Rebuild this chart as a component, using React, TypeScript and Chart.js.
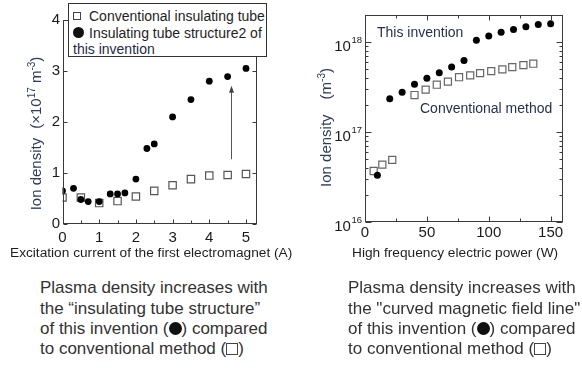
import React, { useEffect, useRef } from 'react';
import { Chart, registerables } from 'chart.js';
Chart.register(...registerables);

const FONT = "'Liberation Sans', Arial, Helvetica, sans-serif";

// ---------- Left chart data ----------
const CURRENT_INVENTION = [0, 0.3, 0.5, 0.7, 1.0, 1.3, 1.5, 1.7, 2.0, 2.3, 2.5, 3.0, 3.5, 4.0, 4.5, 5.0];
const DENSITY_INVENTION = [0.65, 0.70, 0.48, 0.44, 0.44, 0.59, 0.59, 0.61, 0.88, 1.48, 1.57, 2.10, 2.44, 2.80, 2.89, 3.05];
const CURRENT_CONVENTIONAL = [0, 0.5, 1.0, 1.5, 2.0, 2.5, 3.0, 3.5, 4.0, 4.5, 5.0];
const DENSITY_CONVENTIONAL = [0.52, 0.52, 0.41, 0.45, 0.54, 0.65, 0.76, 0.88, 0.95, 0.96, 0.98];
const LEFT_X_TICKS = [0, 1, 2, 3, 4, 5];
const LEFT_X_MINOR = [0.5, 1.5, 2.5, 3.5, 4.5];
const LEFT_Y_TICKS = [0, 1, 2, 3, 4];
const ARROW_CURRENT = 4.6;
const ARROW_FROM = 1.27;
const ARROW_TO = 2.71;

// ---------- Right chart data ----------
const POWER_INVENTION = [10, 20, 30, 40, 50, 60, 70, 80, 90, 100, 110, 120, 130, 140, 150];
const ION_INVENTION = [3.3e16, 2.35e17, 2.77e17, 3.4e17, 3.95e17, 4.57e17, 5.27e17, 6.25e17, 1.05e18, 1.17e18, 1.29e18, 1.38e18, 1.48e18, 1.57e18, 1.6e18];
const POWER_CONVENTIONAL = [7, 14, 22, 40, 49, 58, 67, 76, 85, 93, 102, 111, 119, 128, 136];
const ION_CONVENTIONAL = [3.69e16, 4.34e16, 4.9e16, 2.58e17, 2.96e17, 3.36e17, 3.63e17, 4.07e17, 4.27e17, 4.52e17, 4.76e17, 4.97e17, 5.26e17, 5.55e17, 5.75e17];
const RIGHT_X_TICKS = [0, 50, 100, 150];
const RIGHT_X_MINOR = [25, 75, 125];
const RIGHT_Y_TICKS = [1e16, 1e17, 1e18];
const RIGHT_Y_EXPONENTS = ['16', '17', '18'];
const LOG_MINOR_MULT = [2, 3, 4, 5, 6, 7, 8, 9];

const AXIS_COLOR = '#3a3a3a';
const TICK_TEXT = '#1a1a1a';
const TITLE_COLOR = '#2f3d5c';

type Seg = { t?: string; size?: number; dy?: number; gap?: number };

function drawRotatedRich(ctx: CanvasRenderingContext2D, segs: Seg[], cx: number, cy: number, baseOff: number, color: string) {
  ctx.save();
  ctx.translate(cx, cy);
  ctx.rotate(-Math.PI / 2);
  ctx.textAlign = 'left';
  ctx.textBaseline = 'alphabetic';
  ctx.fillStyle = color;
  const widths = segs.map((s) => {
    if (s.gap) return s.gap;
    ctx.font = `${s.size}px ${FONT}`;
    return ctx.measureText(s.t || '').width;
  });
  const total = widths.reduce((a, b) => a + b, 0);
  let x = -total / 2;
  segs.forEach((s, i) => {
    if (!s.gap) {
      ctx.font = `${s.size}px ${FONT}`;
      ctx.fillText(s.t || '', x, baseOff + (s.dy || 0));
    }
    x += widths[i];
  });
  ctx.restore();
}

function line(ctx: CanvasRenderingContext2D, x1: number, y1: number, x2: number, y2: number) {
  ctx.beginPath();
  ctx.moveTo(x1, y1);
  ctx.lineTo(x2, y2);
  ctx.stroke();
}

const leftPlugin = {
  id: 'leftDecor',
  afterDraw(chart: any) {
    const ctx: CanvasRenderingContext2D = chart.ctx;
    const { left, right, top, bottom } = chart.chartArea;
    const xs = chart.scales.x;
    const ys = chart.scales.y;
    ctx.save();
    ctx.strokeStyle = AXIS_COLOR;
    ctx.lineWidth = 1;
    const L = Math.round(left) + 0.5, R = Math.round(right) - 0.5, T = Math.round(top) + 0.5, B = Math.round(bottom) - 0.5;
    ctx.strokeRect(L, T, R - L, B - T);
    LEFT_X_TICKS.forEach((v) => {
      const p = Math.round(xs.getPixelForValue(v)) + 0.5;
      line(ctx, p, B, p, B - 4);
    });
    LEFT_X_MINOR.forEach((v) => {
      const p = Math.round(xs.getPixelForValue(v)) + 0.5;
      line(ctx, p, B, p, B - 3);
    });
    LEFT_Y_TICKS.forEach((v) => {
      const p = Math.round(ys.getPixelForValue(v)) + 0.5;
      line(ctx, L, p, L + 4, p);
      line(ctx, R, p, R - 4, p);
    });
    // arrow
    const ax = Math.round(xs.getPixelForValue(ARROW_CURRENT)) + 0.5;
    const ay1 = ys.getPixelForValue(ARROW_FROM);
    const ay2 = ys.getPixelForValue(ARROW_TO);
    ctx.strokeStyle = '#555';
    line(ctx, ax, ay1, ax, ay2 + 5);
    ctx.fillStyle = '#444';
    ctx.beginPath();
    ctx.moveTo(ax, ay2);
    ctx.lineTo(ax - 2.5, ay2 + 7);
    ctx.lineTo(ax + 2.5, ay2 + 7);
    ctx.closePath();
    ctx.fill();
    ctx.restore();
    drawRotatedRich(
      ctx,
      [
        { t: 'Ion density', size: 15 },
        { gap: 9 },
        { t: '(×10', size: 15 },
        { t: '17', size: 10, dy: -6 },
        { t: ' m', size: 15 },
        { t: '-3', size: 10, dy: -6 },
        { t: ')', size: 15 },
      ],
      35,
      133.5,
      5.5,
      TITLE_COLOR
    );
  },
};

const rightPlugin = {
  id: 'rightDecor',
  afterDraw(chart: any) {
    const ctx: CanvasRenderingContext2D = chart.ctx;
    const { left, right, top, bottom } = chart.chartArea;
    const xs = chart.scales.x;
    const ys = chart.scales.y;
    ctx.save();
    ctx.strokeStyle = AXIS_COLOR;
    ctx.lineWidth = 1;
    const L = Math.round(left) + 0.5, R = Math.round(right) - 0.5, T = Math.round(top) + 0.5, B = Math.round(bottom) - 0.5;
    ctx.strokeRect(L, T, R - L, B - T);
    RIGHT_X_TICKS.forEach((v) => {
      const p = Math.round(xs.getPixelForValue(v)) + 0.5;
      line(ctx, p, B, p, B - 5);
      line(ctx, p, T, p, T + 5);
    });
    RIGHT_X_MINOR.forEach((v) => {
      const p = Math.round(xs.getPixelForValue(v)) + 0.5;
      line(ctx, p, B, p, B - 3);
      line(ctx, p, T, p, T + 3);
    });
    RIGHT_Y_TICKS.forEach((v) => {
      const p = Math.round(ys.getPixelForValue(v)) + 0.5;
      line(ctx, L, p, L + 6, p);
      line(ctx, R, p, R - 6, p);
      LOG_MINOR_MULT.forEach((m) => {
        const val = v * m;
        if (val >= ys.max) return;
        const q = Math.round(ys.getPixelForValue(val)) + 0.5;
        line(ctx, L, q, L + 3, q);
        line(ctx, R, q, R - 3, q);
      });
    });
    // y tick labels 10^n
    ctx.fillStyle = TICK_TEXT;
    ctx.textBaseline = 'alphabetic';
    RIGHT_Y_TICKS.forEach((v, i) => {
      const p = ys.getPixelForValue(v);
      ctx.font = `9.5px ${FONT}`;
      ctx.textAlign = 'right';
      const supW = ctx.measureText(RIGHT_Y_EXPONENTS[i]).width;
      const supRight = left - 3;
      ctx.fillText(RIGHT_Y_EXPONENTS[i], supRight, p + 0.5);
      ctx.font = `15px ${FONT}`;
      ctx.fillText('10', supRight - supW - 0.5, p + 9);
    });
    ctx.restore();
    drawRotatedRich(
      ctx,
      [
        { t: 'Ion density', size: 15 },
        { gap: 15 },
        { t: '(m', size: 15 },
        { t: '-3', size: 10, dy: -6 },
        { t: ')', size: 15 },
      ],
      325 - 290,
      127.5,
      5.5,
      TITLE_COLOR
    );
  },
};

function leftConfig(): any {
  return {
    type: 'scatter',
    data: {
      datasets: [
        {
          label: 'Insulating tube structure2 of this invention',
          data: CURRENT_INVENTION.map((x, i) => ({ x, y: DENSITY_INVENTION[i] })),
          pointStyle: 'circle',
          pointRadius: 3.4,
          backgroundColor: '#000',
          borderColor: '#000',
          borderWidth: 0,
        },
        {
          label: 'Conventional insulating tube',
          data: CURRENT_CONVENTIONAL.map((x, i) => ({ x, y: DENSITY_CONVENTIONAL[i] })),
          pointStyle: 'rect',
          pointRadius: 5.2,
          backgroundColor: 'rgba(0,0,0,0)',
          borderColor: '#555',
          borderWidth: 1.2,
        },
      ],
    },
    options: {
      responsive: false,
      animation: false,
      devicePixelRatio: 1,
      events: [],
      layout: { padding: { left: 32.5, right: 43, top: 20, bottom: 21 } },
      plugins: { legend: { display: false }, tooltip: { enabled: false } },
      scales: {
        x: {
          type: 'linear',
          min: 0,
          max: 5.3,
          afterBuildTicks: (s: any) => {
            s.ticks = LEFT_X_TICKS.map((v) => ({ value: v }));
          },
          afterFit: (s: any) => {
            s.height = 20;
          },
          grid: { display: false, drawTicks: false },
          border: { display: false },
          ticks: { padding: 4.5, font: { family: FONT, size: 15 }, color: TICK_TEXT, maxRotation: 0, autoSkip: false },
        },
        y: {
          type: 'linear',
          min: 0,
          max: 4,
          afterBuildTicks: (s: any) => {
            s.ticks = LEFT_Y_TICKS.map((v) => ({ value: v }));
          },
          afterFit: (s: any) => {
            s.width = 30;
          },
          grid: { display: false, drawTicks: false },
          border: { display: false },
          ticks: { padding: 2.5, font: { family: FONT, size: 15 }, color: TICK_TEXT, autoSkip: false },
        },
      },
    },
    plugins: [leftPlugin],
  };
}

function rightConfig(): any {
  return {
    type: 'scatter',
    data: {
      datasets: [
        {
          label: 'This invention',
          data: POWER_INVENTION.map((x, i) => ({ x, y: ION_INVENTION[i] })),
          pointStyle: 'circle',
          pointRadius: 3.5,
          backgroundColor: '#000',
          borderColor: '#000',
          borderWidth: 0,
        },
        {
          label: 'Conventional method',
          data: POWER_CONVENTIONAL.map((x, i) => ({ x, y: ION_CONVENTIONAL[i] })),
          pointStyle: 'rect',
          pointRadius: 5,
          backgroundColor: 'rgba(0,0,0,0)',
          borderColor: '#666',
          borderWidth: 1.2,
        },
      ],
    },
    options: {
      responsive: false,
      animation: false,
      devicePixelRatio: 1,
      events: [],
      layout: { padding: { left: 35, right: 19, top: 15, bottom: 23 } },
      plugins: { legend: { display: false }, tooltip: { enabled: false } },
      scales: {
        x: {
          type: 'linear',
          min: 0,
          max: 160,
          afterBuildTicks: (s: any) => {
            s.ticks = RIGHT_X_TICKS.map((v) => ({ value: v }));
          },
          afterFit: (s: any) => {
            s.height = 20;
          },
          grid: { display: false, drawTicks: false },
          border: { display: false },
          ticks: { padding: 2, font: { family: FONT, size: 15 }, color: TICK_TEXT, maxRotation: 0, autoSkip: false },
        },
        y: {
          type: 'logarithmic',
          min: 1e16,
          max: 2e18,
          afterBuildTicks: (s: any) => {
            s.ticks = RIGHT_Y_TICKS.map((v) => ({ value: v }));
          },
          afterFit: (s: any) => {
            s.width = 40;
          },
          grid: { display: false, drawTicks: false },
          border: { display: false },
          ticks: { display: false },
        },
      },
    },
    plugins: [rightPlugin],
  };
}

function ChartCanvas(props: { config: () => any; left: number; top: number; width: number; height: number }) {
  const ref = useRef<HTMLCanvasElement>(null);
  useEffect(() => {
    const chart = new Chart(ref.current as HTMLCanvasElement, props.config());
    return () => chart.destroy();
  }, []);
  return (
    <canvas
      ref={ref}
      width={props.width}
      height={props.height}
      style={{ position: 'absolute', left: props.left, top: props.top, width: props.width, height: props.height }}
    />
  );
}

const sq = (size: number, bw: number, va: number, mr: number): React.CSSProperties => ({
  display: 'inline-block',
  width: size,
  height: size,
  border: `${bw}px solid #444`,
  boxSizing: 'border-box',
  verticalAlign: va,
  marginRight: mr,
});
const dot = (size: number, va: number, mr: number): React.CSSProperties => ({
  display: 'inline-block',
  width: size,
  height: size,
  borderRadius: '50%',
  background: '#111',
  verticalAlign: va,
  marginRight: mr,
});

const CAPTION_LEFT = [
  'Plasma density increases with',
  'the \u201Cinsulating tube structure\u201D',
  'of this invention (\u25CF) compared',
  'to conventional method (\u25A1)',
];
const CAPTION_RIGHT = [
  'Plasma density increases with',
  'the "curved magnetic field line"',
  'of this invention (\u25CF) compared',
  'to conventional method (\u25A1)',
];

function renderLine(s: string) {
  const parts = s.split(/(\u25CF|\u25A1)/);
  return parts.map((p, i) => {
    if (p === '\u25CF') return <span key={i} style={dot(13, -1.5, 0)} />;
    if (p === '\u25A1') return <span key={i} style={sq(12, 1.6, -1, 0)} />;
    return <span key={i}>{p}</span>;
  });
}

function Caption(props: { lines: string[]; left: number; top: number }) {
  return (
    <div
      style={{
        position: 'absolute',
        left: props.left,
        top: props.top,
        font: `17px ${FONT}`,
        lineHeight: '20.2px',
        color: '#333',
        whiteSpace: 'pre',
      }}
    >
      {props.lines.map((l, i) => (
        <div key={i}>{renderLine(l)}</div>
      ))}
    </div>
  );
}

export default function App() {
  const abs = (left: number, top: number, size: number, color: string): React.CSSProperties => ({
    position: 'absolute',
    left,
    top,
    font: `${size}px ${FONT}`,
    lineHeight: '16px',
    color,
    whiteSpace: 'pre',
  });
  return (
    <div style={{ position: 'absolute', left: 0, top: 0, width: 582, height: 372, background: '#fff', overflow: 'hidden' }}>
      <ChartCanvas config={leftConfig} left={0} top={0} width={300} height={265} />
      <ChartCanvas config={rightConfig} left={290} top={0} width={292} height={265} />
      <div
        style={{
          position: 'absolute',
          left: 68,
          top: 3,
          width: 199,
          height: 54,
          boxSizing: 'border-box',
          border: '1px solid #333',
          background: '#fff',
          padding: '4px 0 0 4px',
          font: `14px ${FONT}`,
          lineHeight: '16.5px',
          color: '#1e1e1e',
          whiteSpace: 'pre',
        }}
      >
        <div>
          <span style={sq(8, 1.3, 1, 8)} />
          Conventional insulating tube
        </div>
        <div>
          <span style={dot(11, -0.5, 5)} />
          Insulating tube structure2 of
        </div>
        <div style={{ color: '#1f2a48' }}>this invention</div>
      </div>
      <div style={abs(377, 24, 14, '#26324d')}>This invention</div>
      <div style={abs(420, 100, 14, '#26324d')}>Conventional method</div>
      <div style={abs(10, 245, 13.7, '#1e1e1e')}>Excitation current of the first electromagnet (A)</div>
      <div style={abs(352, 245, 13.7, '#1e1e1e')}>High frequency electric power (W)</div>
      <Caption lines={CAPTION_LEFT} left={40} top={278.4} />
      <Caption lines={CAPTION_RIGHT} left={348} top={278.4} />
    </div>
  );
}
